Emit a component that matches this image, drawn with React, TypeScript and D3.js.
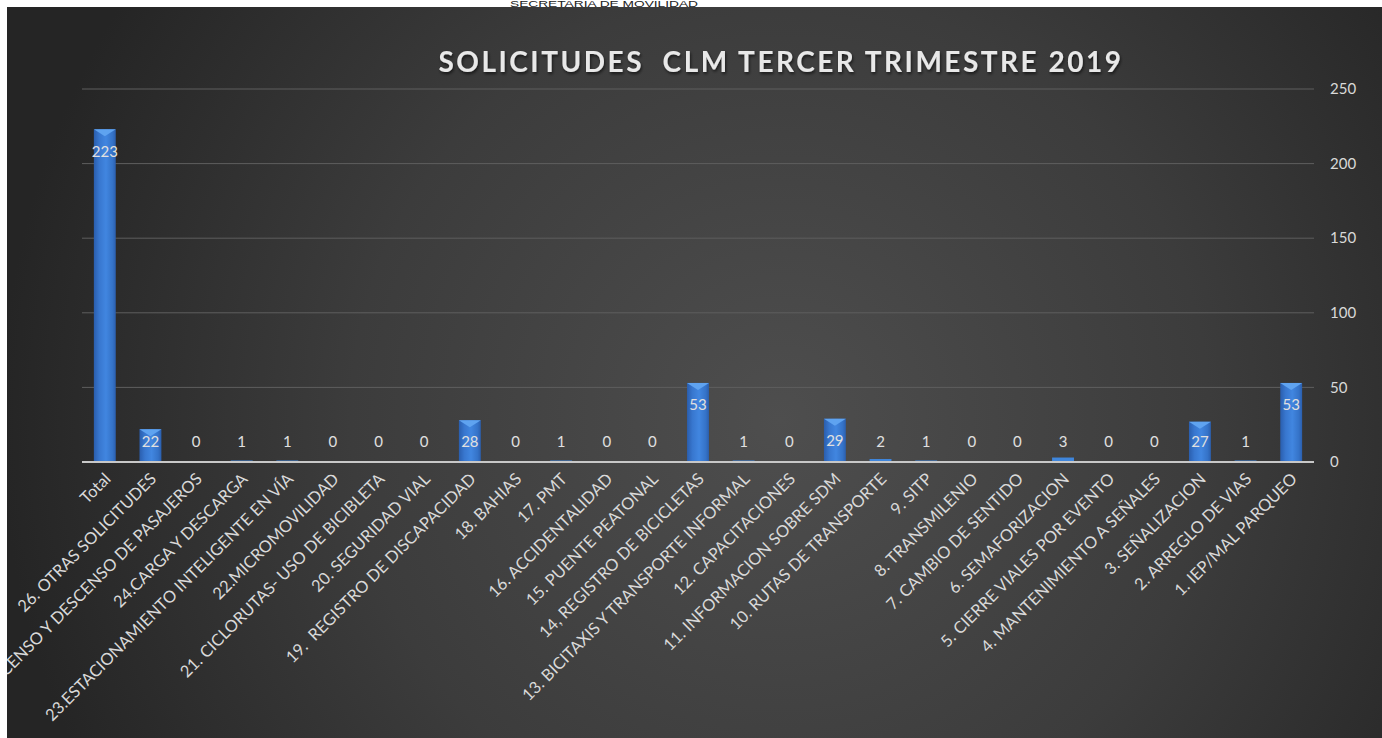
import { useEffect, useRef } from 'react';
import * as d3 from 'd3';

const categories = [
  'Total',
  '26. OTRAS SOLICITUDES',
  '25. ASCENSO Y DESCENSO DE PASAJEROS',
  '24.CARGA Y DESCARGA',
  '23.ESTACIONAMIENTO INTELIGENTE EN VÍA',
  '22.MICROMOVILIDAD',
  '21. CICLORUTAS- USO DE BICIBLETA',
  '20. SEGURIDAD VIAL',
  '19.  REGISTRO DE DISCAPACIDAD',
  '18. BAHIAS',
  '17. PMT',
  '16. ACCIDENTALIDAD',
  '15. PUENTE PEATONAL',
  '14, REGISTRO DE BICICLETAS',
  '13. BICITAXIS Y TRANSPORTE INFORMAL',
  '12. CAPACITACIONES',
  '11. INFORMACION SOBRE SDM',
  '10. RUTAS DE TRANSPORTE',
  '9. SITP',
  '8. TRANSMILENIO',
  '7. CAMBIO DE SENTIDO',
  '6. SEMAFORIZACION',
  '5. CIERRE VIALES POR EVENTO',
  '4. MANTENIMIENTO A SEÑALES',
  '3. SEÑALIZACION',
  '2. ARREGLO DE VIAS',
  '1. IEP/MAL PARQUEO',
];

const solicitudes = [223, 22, 0, 1, 1, 0, 0, 0, 28, 0, 1, 0, 0, 53, 1, 0, 29, 2, 1, 0, 0, 3, 0, 0, 27, 1, 53];

const yTicks = [0, 50, 100, 150, 200, 250];

const title = 'SOLICITUDES  CLM TERCER TRIMESTRE 2019';
const header = 'SECRETARIA DE MOVILIDAD';

export default function App() {
  const ref = useRef<SVGSVGElement>(null);

  useEffect(() => {
    if (!ref.current) return;
    const width = 1382;
    const height = 738;
    const svg = d3.select(ref.current);
    svg.selectAll('*').remove();

    const defs = svg.append('defs');

    const bg = defs.append('radialGradient')
      .attr('id', 'bgGrad')
      .attr('gradientUnits', 'userSpaceOnUse')
      .attr('cx', 780).attr('cy', 420).attr('r', 780);
    bg.append('stop').attr('offset', '0%').attr('stop-color', '#4e4e4e');
    bg.append('stop').attr('offset', '55%').attr('stop-color', '#3c3c3c');
    bg.append('stop').attr('offset', '100%').attr('stop-color', '#252525');

    const barGrad = defs.append('linearGradient')
      .attr('id', 'barGrad')
      .attr('x1', '0%').attr('x2', '100%').attr('y1', '0%').attr('y2', '0%');
    barGrad.append('stop').attr('offset', '0%').attr('stop-color', '#2a5eae');
    barGrad.append('stop').attr('offset', '25%').attr('stop-color', '#3877cf');
    barGrad.append('stop').attr('offset', '55%').attr('stop-color', '#4186e0');
    barGrad.append('stop').attr('offset', '85%').attr('stop-color', '#3573c8');
    barGrad.append('stop').attr('offset', '100%').attr('stop-color', '#2b5fae');

    const shadow = defs.append('filter').attr('id', 'titleShadow')
      .attr('x', '-5%').attr('y', '-30%').attr('width', '110%').attr('height', '160%');
    shadow.append('feDropShadow')
      .attr('dx', 1).attr('dy', 2).attr('stdDeviation', 1.5)
      .attr('flood-color', '#000').attr('flood-opacity', 0.6);

    defs.append('clipPath').attr('id', 'panelClip')
      .append('rect').attr('x', 7).attr('y', 7).attr('width', width - 7).attr('height', height - 7);

    // page strip + header text (only its lower part shows above the panel)
    svg.append('rect').attr('width', width).attr('height', height).attr('fill', '#ffffff');
    svg.append('text')
      .attr('x', 604).attr('y', 7)
      .attr('text-anchor', 'middle')
      .attr('textLength', 188)
      .attr('lengthAdjust', 'spacingAndGlyphs')
      .style('font-family', 'Liberation Sans, Arial, sans-serif')
      .style('font-size', '9px')
      .style('fill', '#222')
      .text(header);

    const g = svg.append('g').attr('clip-path', 'url(#panelClip)');
    g.append('rect')
      .attr('x', 7).attr('y', 7).attr('width', width - 7).attr('height', height - 7)
      .attr('fill', 'url(#bgGrad)');

    const x = d3.scaleBand<string>()
      .domain(categories)
      .range([82, 1314])
      .paddingInner(0.52)
      .paddingOuter(0.26);

    const y = d3.scaleLinear().domain([0, 250]).range([462, 89]);

    // gridlines
    g.append('g')
      .selectAll('line')
      .data(yTicks.filter(t => t > 0))
      .join('line')
      .attr('x1', 82).attr('x2', 1314)
      .attr('y1', d => y(d)).attr('y2', d => y(d))
      .attr('stroke', '#5e5e5e')
      .attr('stroke-width', 1);

    // right axis labels
    g.append('g')
      .selectAll('text')
      .data(yTicks)
      .join('text')
      .attr('x', 1330)
      .attr('y', d => y(d))
      .attr('dy', '0.35em')
      .style('font-family', 'Lato, sans-serif')
      .style('font-size', '15px')
      .style('fill', '#d9d9d9')
      .text(d => d);

    // bars
    const bw = x.bandwidth();
    const bars = g.append('g')
      .selectAll('g')
      .data(categories.map((c, i) => ({ c, v: solicitudes[i] })))
      .join('g');

    bars.filter(d => d.v > 0)
      .append('rect')
      .attr('x', d => x(d.c)!)
      .attr('y', d => y(d.v))
      .attr('width', bw)
      .attr('height', d => y(0) - y(d.v))
      .attr('fill', d => (y(0) - y(d.v) < 6 ? '#3f86dc' : 'url(#barGrad)'));

    // top bevel
    const cap = 7;
    const tall = bars.filter(d => y(0) - y(d.v) > cap * 1.5);
    tall.append('path')
      .attr('d', d => {
        const x0 = x(d.c)!;
        const t = y(d.v);
        return `M${x0},${t}L${x0 + bw},${t}L${x0 + bw / 2},${t + cap}Z`;
      })
      .attr('fill', '#5fa3f0');

    // data labels
    bars.append('text')
      .attr('x', d => x(d.c)! + bw / 2)
      .attr('y', d => Math.min(y(d.v) + 22, 442))
      .attr('dy', '0.35em')
      .attr('text-anchor', 'middle')
      .style('font-family', 'Lato, sans-serif')
      .style('font-size', '15px')
      .style('fill', '#e0e0e0')
      .text(d => d.v);

    // axis line
    g.append('line')
      .attr('x1', 82).attr('x2', 1314)
      .attr('y1', y(0)).attr('y2', y(0))
      .attr('stroke', '#c8c8c8')
      .attr('stroke-width', 2);

    // category labels
    g.append('g')
      .selectAll('text')
      .data(categories)
      .join('text')
      .attr('transform', d => `translate(${x(d)! + bw / 2 + 7},${y(0) + 18}) rotate(-45)`)
      .attr('text-anchor', 'end')
      .style('font-family', 'Lato, sans-serif')
      .style('font-size', '16.5px')
      .style('fill', '#d9d9d9')
      .style('white-space', 'pre')
      .text(d => d);

    // title
    g.append('text')
      .attr('x', 781)
      .attr('y', 72)
      .attr('text-anchor', 'middle')
      .style('font-family', 'Lato, sans-serif')
      .style('font-size', '28px')
      .style('font-weight', 'bold')
      .style('letter-spacing', '2.5px')
      .style('white-space', 'pre')
      .style('fill', '#e8e8e8')
      .attr('filter', 'url(#titleShadow)')
      .text(title);
  }, []);

  return (
    <svg
      ref={ref}
      width={1382}
      height={738}
      style={{ position: 'absolute', left: 0, top: 0, display: 'block' }}
    />
  );
}
